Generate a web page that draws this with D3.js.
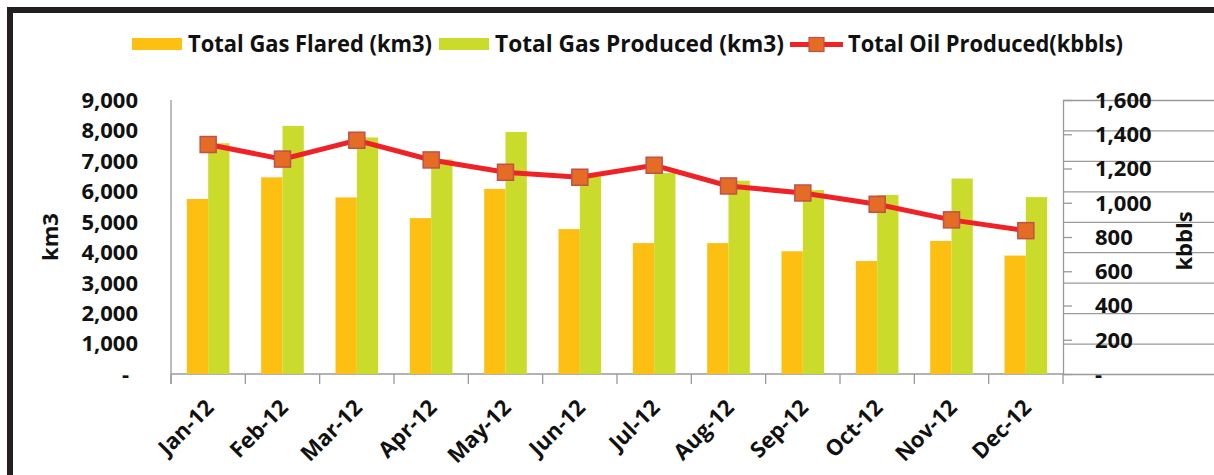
<!DOCTYPE html>
<html>
<head>
<meta charset="utf-8">
<script src="https://cdn.jsdelivr.net/npm/d3@7"></script>
<style>
  body { margin: 0; background: #fff; }
  text { font-family: "Open Sans", sans-serif; font-weight: bold; fill: #111; }
</style>
</head>
<body>
<div id="chart-area"></div>
<script>
// data
let months = ["Jan-12", "Feb-12", "Mar-12", "Apr-12", "May-12", "Jun-12",
              "Jul-12", "Aug-12", "Sep-12", "Oct-12", "Nov-12", "Dec-12"];
let gasFlared   = [5750, 6460, 5800, 5120, 6080, 4760, 4300, 4300, 4030, 3710, 4370, 3890];
let gasProduced = [7580, 8150, 7770, 7050, 7950, 6480, 6600, 6350, 6040, 5880, 6420, 5810];
let oilProduced = [1340, 1255, 1365, 1250, 1178, 1149, 1219, 1098, 1057, 991, 900, 837];

let leftTicks  = [0, 1000, 2000, 3000, 4000, 5000, 6000, 7000, 8000, 9000];
let rightTicks = [0, 200, 400, 600, 800, 1000, 1200, 1400, 1600];

let seriesNames  = ["Total Gas Flared (km3)", "Total Gas Produced (km3)", "Total Oil Produced(kbbls)"];
let seriesColors = ["#fcbf12", "#cbdb2b", "#ee2227"];

let W = 1214, H = 475;
let plot = {left: 171, right: 1063, top: 100, bottom: 374};

let svg = d3.select("#chart-area").append("svg")
    .attr("width", W)
    .attr("height", H);

// outer dark frame (runs off right/bottom edge)
svg.append("rect")
    .attr("x", 10).attr("y", 10)
    .attr("width", W + 40).attr("height", H + 40)
    .attr("fill", "none")
    .attr("stroke", "#231f20")
    .attr("stroke-width", 6);

// scales
let x = d3.scaleBand()
    .domain(months)
    .range([plot.left, plot.right])
    .padding(0);

let x1 = d3.scaleBand()
    .domain([0, 1])
    .range([0, x.bandwidth()])
    .paddingInner(0)
    .paddingOuter(0.745);

let y = d3.scaleLinear().domain([0, 9000]).range([plot.bottom, plot.top]);
let y2 = d3.scaleLinear().domain([0, 1600]).range([plot.bottom, plot.top]);

let fmt = d => d === 0 ? "-" : d3.format(",")(d);

// gridlines + left axis
let leftAxis = d3.axisLeft(y)
    .tickValues(leftTicks)
    .tickSize(-(plot.right - plot.left) - 9)
    .tickPadding(0)
    .tickFormat("");

let gl = svg.append("g")
    .attr("transform", "translate(" + (plot.right) + ",0)")
    .call(leftAxis);
gl.select(".domain").remove();
gl.selectAll(".tick line").attr("stroke", "#9a9a9a").attr("stroke-width", 1.3);

svg.append("g").selectAll("text")
    .data(leftTicks)
    .enter().append("text")
    .attr("x", d => d === 0 ? 129 : 138)
    .attr("y", d => y(d))
    .attr("dy", "0.36em")
    .attr("text-anchor", "end")
    .attr("font-size", 22)
    .text(fmt);

// left and right axis lines
svg.append("line")
    .attr("x1", plot.left).attr("x2", plot.left)
    .attr("y1", plot.top).attr("y2", plot.bottom + 10)
    .attr("stroke", "#9a9a9a").attr("stroke-width", 1.3);

let rightAxis = d3.axisRight(y2)
    .tickValues(rightTicks)
    .tickSize(9)
    .tickSizeOuter(0)
    .tickFormat("");
let gr = svg.append("g")
    .attr("transform", "translate(" + plot.right + ",0)")
    .call(rightAxis);
gr.select(".domain").attr("stroke", "#9a9a9a").attr("stroke-width", 1.3);
gr.selectAll(".tick line").attr("stroke", "#9a9a9a").attr("stroke-width", 1.3);
svg.append("line")
    .attr("x1", plot.right).attr("x2", plot.right)
    .attr("y1", plot.bottom).attr("y2", plot.bottom + 10)
    .attr("stroke", "#9a9a9a").attr("stroke-width", 1.3);

svg.append("g").selectAll("text")
    .data(rightTicks)
    .enter().append("text")
    .attr("x", 1095)
    .attr("y", d => y2(d))
    .attr("dy", "0.36em")
    .attr("font-size", 22)
    .text(fmt);

// bottom axis: ticks at category boundaries
svg.append("line")
    .attr("x1", plot.left).attr("x2", plot.right)
    .attr("y1", plot.bottom).attr("y2", plot.bottom)
    .attr("stroke", "#9a9a9a").attr("stroke-width", 1.3);

svg.append("g").selectAll("line")
    .data(months)
    .enter().append("line")
    .attr("x1", d => x(d)).attr("x2", d => x(d))
    .attr("y1", plot.bottom).attr("y2", plot.bottom + 10)
    .attr("stroke", "#9a9a9a").attr("stroke-width", 1.3);

svg.append("g").selectAll("text")
    .data(months)
    .enter().append("text")
    .attr("transform", d => "translate(" + (x(d) + x.bandwidth() / 2 - 4) + "," + (plot.bottom + 24) + ") rotate(-45)")
    .attr("text-anchor", "end")
    .attr("dy", "0.7em")
    .attr("font-size", 22)
    .text(d => d);

// bars
let bars = svg.append("g");
[gasFlared, gasProduced].forEach(function (vals, i) {
    bars.append("g").selectAll("rect")
        .data(vals)
        .enter().append("rect")
        .attr("x", (d, j) => x(months[j]) + x1(i))
        .attr("y", d => y(d))
        .attr("width", x1.bandwidth())
        .attr("height", d => plot.bottom - y(d))
        .attr("fill", seriesColors[i]);
});

// oil line
let line = d3.line()
    .x((d, j) => x(months[j]) + x.bandwidth() / 2)
    .y(d => y2(d));

svg.append("path")
    .datum(oilProduced)
    .attr("d", line)
    .attr("fill", "none")
    .attr("stroke", seriesColors[2])
    .attr("stroke-width", 5);

svg.append("g").selectAll("rect")
    .data(oilProduced)
    .enter().append("rect")
    .attr("x", (d, j) => x(months[j]) + x.bandwidth() / 2 - 8)
    .attr("y", d => y2(d) - 8)
    .attr("width", 16)
    .attr("height", 16)
    .attr("fill", "#e46c24")
    .attr("stroke", "#c0504d")
    .attr("stroke-width", 1.5);

// axis titles
svg.append("text")
    .attr("transform", "translate(58,237) rotate(-90)")
    .attr("text-anchor", "middle")
    .attr("font-size", 22)
    .text("km3");

svg.append("text")
    .attr("transform", "translate(1192,241) rotate(-90)")
    .attr("text-anchor", "middle")
    .attr("font-size", 22)
    .text("kbbls");

// legend
let legend = svg.append("g");
let legendX = [132, 439, 790];
let textX = [188, 495, 848];
let textLen = [244, 289, 275];

legend.append("rect")
    .attr("x", legendX[0]).attr("y", 38).attr("width", 50).attr("height", 12)
    .attr("fill", seriesColors[0]);
legend.append("rect")
    .attr("x", legendX[1]).attr("y", 38).attr("width", 50).attr("height", 12)
    .attr("fill", seriesColors[1]);
legend.append("line")
    .attr("x1", legendX[2]).attr("x2", legendX[2] + 53)
    .attr("y1", 44.5).attr("y2", 44.5)
    .attr("stroke", seriesColors[2]).attr("stroke-width", 5);
legend.append("rect")
    .attr("x", legendX[2] + 19).attr("y", 37.5).attr("width", 15).attr("height", 14)
    .attr("fill", "#e46c24").attr("stroke", "#c0504d").attr("stroke-width", 1.2);

legend.selectAll("text")
    .data(seriesNames)
    .enter().append("text")
    .attr("x", (d, i) => textX[i])
    .attr("y", 52)
    .attr("font-size", 23)
    .attr("textLength", (d, i) => textLen[i])
    .attr("lengthAdjust", "spacingAndGlyphs")
    .text(d => d);
</script>
</body>
</html>
